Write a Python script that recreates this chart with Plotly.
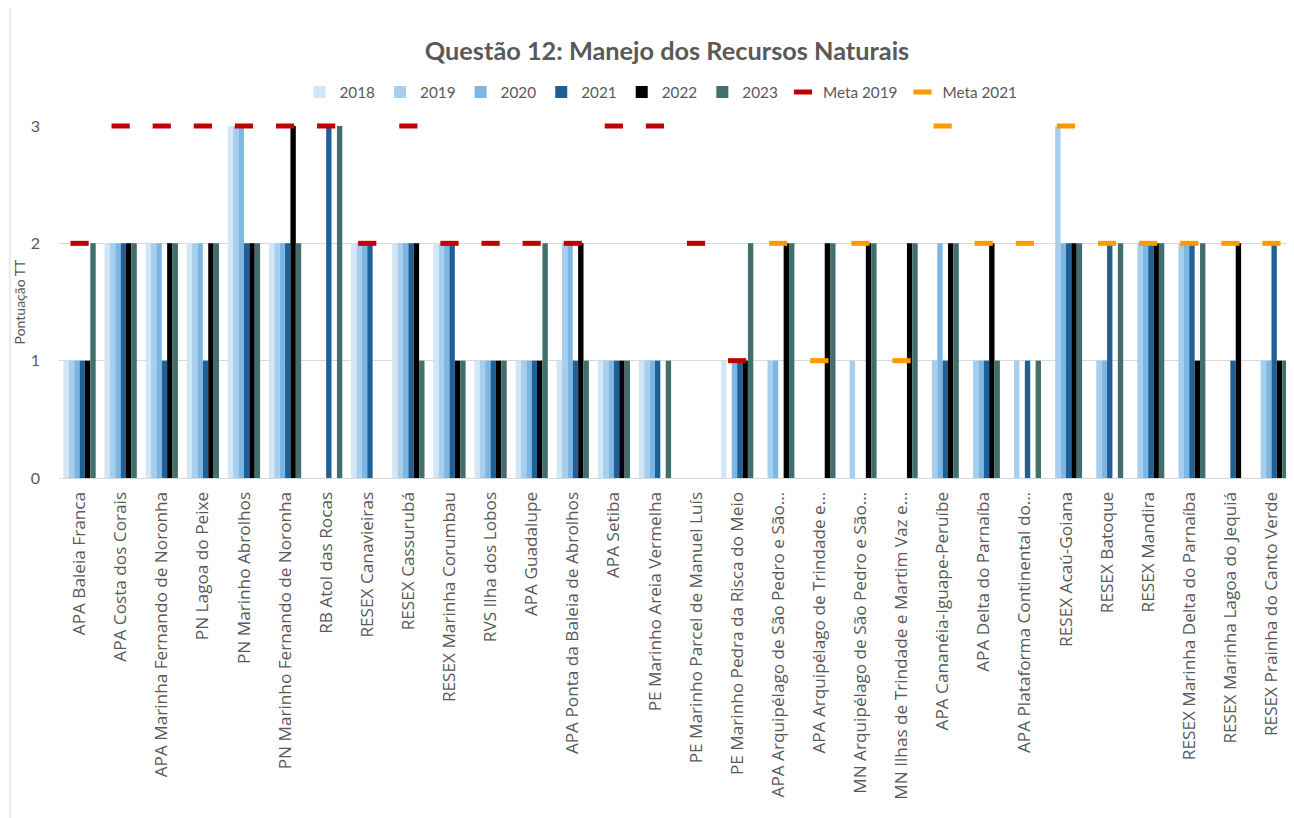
import plotly.graph_objects as go

categories = [
    "APA Baleia Franca", "APA Costa dos Corais", "APA Marinha Fernando de Noronha",
    "PN Lagoa do Peixe", "PN Marinho Abrolhos", "PN Marinho Fernando de Noronha",
    "RB Atol das Rocas", "RESEX Canavieiras", "RESEX Cassurubá",
    "RESEX Marinha Corumbau", "RVS Ilha dos Lobos", "APA Guadalupe",
    "APA Ponta da Baleia de Abrolhos", "APA Setiba", "PE Marinho Areia Vermelha",
    "PE Marinho Parcel de Manuel Luís", "PE Marinho Pedra da Risca do Meio",
    "APA Arquipélago de São Pedro e São…", "APA Arquipélago de Trindade e…",
    "MN Arquipélago de São Pedro e São…", "MN Ilhas de Trindade e Martim Vaz e…",
    "APA Cananéia-Iguape-Peruíbe", "APA Delta do Parnaíba",
    "APA Plataforma Continental do…", "RESEX Acaú-Goiana", "RESEX Batoque",
    "RESEX Mandira", "RESEX Marinha Delta do Parnaíba",
    "RESEX Marinha Lagoa do Jequiá", "RESEX Prainha do Canto Verde",
]

N = None
v2018 = [1, 2, 2, 2, 3, 2, N, 2, 2, 2, 1, 1, 1, 1, 1, N, 1, N, N, N, N, N, N, N, N, N, N, N, N, N]
v2019 = [1, 2, 2, 2, 3, 2, N, 2, 2, 2, 1, 1, 2, 1, 1, N, N, 1, N, 1, N, 1, 1, 1, 3, 1, 2, 2, N, 1]
v2020 = [1, 2, 2, 2, 3, 2, N, 2, 2, 2, 1, 1, 2, 1, 1, N, 1, 1, N, N, N, 2, 1, N, 2, 1, 2, 2, N, 1]
v2021 = [1, 2, 1, 1, 2, 2, 3, 2, 2, 2, 1, 1, 1, 1, 1, N, 1, N, N, N, N, 1, 1, 1, 2, 2, 2, 2, 1, 2]
v2022 = [1, 2, 2, 2, 2, 3, N, N, 2, 1, 1, 1, 2, 1, N, N, 1, 2, 2, 2, 2, 2, 2, N, 2, N, 2, 1, 2, 1]
v2023 = [2, 2, 2, 2, 2, 2, 3, N, 1, 1, 1, 2, 1, 1, 1, N, 2, 2, 2, 2, 2, 2, 1, 1, 2, 2, 2, 2, N, 1]
meta2019 = [2, 3, 3, 3, 3, 3, 3, 2, 3, 2, 2, 2, 2, 3, 3, 2, 1, N, N, N, N, N, N, N, N, N, N, N, N, N]
meta2021 = [N, N, N, N, N, N, N, N, N, N, N, N, N, N, N, N, N, 2, 1, 2, 1, 3, 2, 2, 3, 2, 2, 2, 2, 2]

bar_series = [
    ("2018", v2018, "#D2E6F6"),
    ("2019", v2019, "#A6CEEE"),
    ("2020", v2020, "#7DB6E3"),
    ("2021", v2021, "#1F6196"),
    ("2022", v2022, "#000000"),
    ("2023", v2023, "#426F6B"),
]
meta_series = [
    ("Meta 2019", meta2019, "#C00000"),
    ("Meta 2021", meta2021, "#FF9900"),
]

TXT = "#595959"
fig = go.Figure()
for name, vals, col in bar_series:
    fig.add_trace(go.Bar(x=categories, y=vals, name=name,
                         marker=dict(color=col, line=dict(width=0))))
for name, vals, col in meta_series:
    fig.add_trace(go.Scatter(x=categories, y=vals, name=name, mode="markers",
                             cliponaxis=False,
                             marker=dict(symbol="line-ew", size=13,
                                         line=dict(color=col, width=5))))

# page body has an 8px margin: figure coords = screen coords - 8
OFF = 8
W, H = 1286, 810
ml, mr, mt, mb = 51, 2, 118, 340
pw = W - ml - mr
ph = H - mt - mb

def px_x(p):
    return (p - OFF - ml) / pw

def px_y(p):
    return (H - mb - (p - OFF)) / ph

fig.update_layout(
    width=W, height=H,
    margin=dict(l=ml, r=mr, t=mt, b=mb, autoexpand=False),
    paper_bgcolor="white", plot_bgcolor="white",
    barmode="group", bargap=0.214, bargroupgap=0,
    title=dict(text="<b>Questão 12: Manejo dos Recursos Naturais</b>",
               x=px_x(667), xanchor="center", xref="paper",
               y=1 - 43 / H, yanchor="middle",
               font=dict(family="Lato", size=25.3, color=TXT)),
    legend=dict(orientation="h", x=px_x(661), xanchor="center", xref="paper",
                y=1 - 84 / H, yref="container", yanchor="middle",
                font=dict(family="Lato", size=15.3, color=TXT),
                bgcolor="rgba(0,0,0,0)", traceorder="normal"),
    xaxis=dict(tickangle=-90, tickfont=dict(family="Open Sans", size=17.2, color=TXT),
               range=[-0.5, len(categories) - 0.5], automargin=False,
               showline=True, linecolor="#D9D9D9", linewidth=1,
               showgrid=False, ticks="", ticklabelstandoff=6),
    yaxis=dict(range=[0, 3], tickvals=[0, 1, 2, 3], showgrid=True,
               gridcolor="#D9D9D9", gridwidth=1, zeroline=False,
               automargin=False,
               tickfont=dict(family="Lato", size=16, color=TXT),
               ticklabelstandoff=18,
               title=dict(text="Pontuação TT", standoff=1,
                          font=dict(family="Lato", size=14, color=TXT))),
    showlegend=True,
)

fig.add_shape(type="line", xref="paper", yref="paper",
              x0=px_x(10), x1=px_x(10), y0=px_y(830), y1=px_y(-5),
              line=dict(color="#D9D9D9", width=1), layer="below")

fig.write_html("out.html")
